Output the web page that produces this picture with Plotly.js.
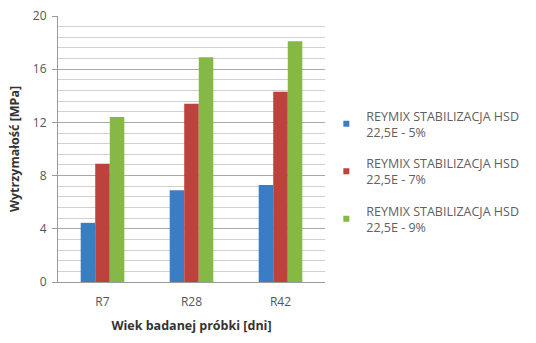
<!DOCTYPE html>
<html>
<head>
<meta charset="utf-8">
<script src="https://cdn.plot.ly/plotly-3.0.1.min.js"></script>
<style>html,body{margin:0;padding:0;background:#fff;}#chart{width:536px;height:343px;}</style>
</head>
<body>
<div id="chart"></div>
<script>
const categories = ["R7", "R28", "R42"];
const seriesNames = [
  "REYMIX STABILIZACJA HSD<br>22,5E - 5%",
  "REYMIX STABILIZACJA HSD<br>22,5E - 7%",
  "REYMIX STABILIZACJA HSD<br>22,5E - 9%"
];
const values5 = [4.45, 6.9, 7.3];
const values7 = [8.9, 13.4, 14.3];
const values9 = [12.4, 16.9, 18.1];
const colors = ["#3a7dc4", "#bb423d", "#86b845"];
const yTicks = [0, 4, 8, 12, 16, 20];

const seriesValues = [values5, values7, values9];
const traces = seriesValues.map((v, i) => ({
  type: "bar",
  x: categories,
  y: v,
  name: seriesNames[i],
  marker: {color: colors[i]},
  showlegend: false,
  hoverinfo: "x+y"
}));
// legend-only entries with small square markers
seriesNames.forEach((n, i) => {
  traces.push({
    type: "scatter",
    mode: "markers",
    x: [null], y: [null],
    name: n,
    legendgroup: "g" + i,
    marker: {symbol: "square", size: 6, color: colors[i]},
    showlegend: true
  });
});

const layout = {
  width: 536,
  height: 343,
  margin: {l: 58, r: 209, t: 16, b: 61},
  paper_bgcolor: "#ffffff",
  plot_bgcolor: "#ffffff",
  font: {family: "Open Sans, Liberation Sans, sans-serif", size: 10, color: "#555"},
  barmode: "group",
  bargap: 0.51,
  bargroupgap: 0,
  showlegend: true,
  legend: {
    x: 1.005, xanchor: "left", y: 0.68, yanchor: "top",
    font: {size: 12.5, color: "#606060"},
    tracegroupgap: 12,
    itemwidth: 30,
    itemsizing: "trace",
    bgcolor: "rgba(0,0,0,0)"
  },
  xaxis: {
    type: "category",
    showgrid: false,
    showline: true,
    linecolor: "#9a9a9a",
    linewidth: 1,
    ticks: "",
    ticklabelstandoff: 9,
    tickfont: {size: 12, color: "#555"},
    title: {text: "Wiek badanej próbki [dni]", font: {size: 12.5, color: "#333", weight: "bold"}, standoff: 11}
  },
  yaxis: {
    range: [0, 20],
    tickvals: yTicks,
    ticktext: yTicks.map(String),
    showgrid: true,
    gridcolor: "#a8a8a8",
    gridwidth: 1,
    minor: {dtick: 0.8, showgrid: true, gridcolor: "#d0d0d0", gridwidth: 1},
    showline: true,
    linecolor: "#9a9a9a",
    linewidth: 1,
    ticks: "outside",
    ticklen: 5,
    tickcolor: "#9a9a9a",
    zeroline: false,
    ticklabelstandoff: 3,
    tickfont: {size: 12, color: "#555"},
    title: {text: "Wytrzymałość [MPa]", font: {size: 12.5, color: "#333", weight: "bold"}, standoff: 10}
  }
};

Plotly.newPlot("chart", traces, layout, {displayModeBar: false, staticPlot: true});
</script>
</body>
</html>
